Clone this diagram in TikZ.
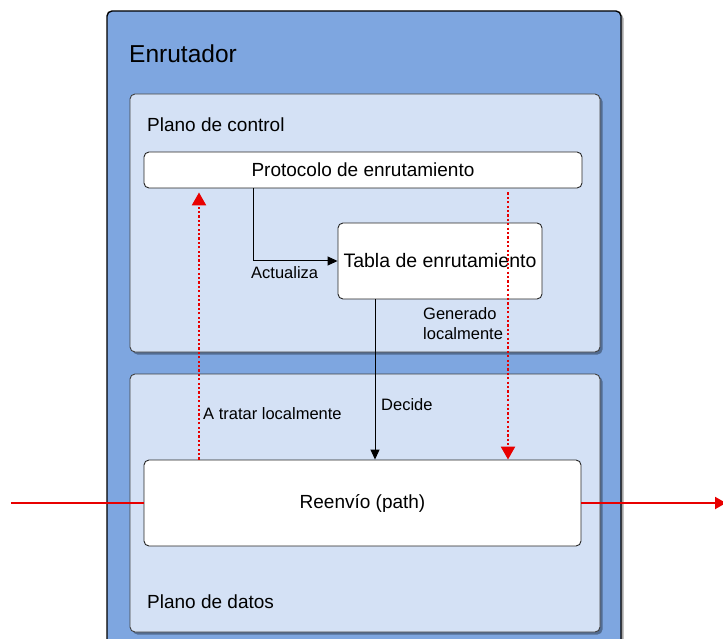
\documentclass[tikz,border=0pt]{standalone}
\usepackage{fontspec}
\setmainfont{Liberation Sans}
\usetikzlibrary{arrows.meta,shadows,calc}
\definecolor{outerblue}{RGB}{126,166,224}
\definecolor{planeblue}{RGB}{212,225,245}
\definecolor{lred}{RGB}{232,0,0}
\tikzset{
  shad/.style={drop shadow={shadow xshift=2.5pt,shadow yshift=-2.5pt,opacity=0.35,fill=black}},
  outerbox/.style={draw=black,line width=1.4pt,fill=outerblue,rounded corners=5pt,shad},
  planebox/.style={draw=black!75,line width=0.9pt,fill=planeblue,rounded corners=5pt,shad},
  whitebox/.style={draw=black!85,line width=0.9pt,fill=white,rounded corners=5pt,font=\fontsize{19}{22}\selectfont,inner sep=0pt},
  lbl/.style={font=\fontsize{16.5}{20}\selectfont,inner sep=0pt,anchor=base west,align=left},
  blk/.style={draw=black,line width=1pt,-{Triangle[length=10pt,width=9pt]}},
  rdot/.style={draw=lred,line width=2.4pt,dash pattern=on 2.2pt off 2.2pt,-{Triangle[length=13pt,width=14pt]}},
  rsolid/.style={draw=lred,line width=2pt},
}
\begin{document}
\begin{tikzpicture}[x=1pt,y=-1pt]
\useasboundingbox (0,0) rectangle (723,639);
\clip (0,0) rectangle (723,639);
% containers
\node[outerbox,minimum width=514pt,minimum height=650pt] (router) at (364,336) {};
\node[planebox,minimum width=470pt,minimum height=258pt] (ctrl) at (365,223) {};
\node[planebox,minimum width=470pt,minimum height=258pt] (data) at (365,503) {};
% titles
\node[font=\fontsize{24.5}{28}\selectfont,inner sep=0pt,anchor=base west] (t1) at (129,63) {Enrutador};
\node[font=\fontsize{19}{22}\selectfont,inner sep=0pt,anchor=base west] (t2) at (147,132) {Plano de control};
\node[font=\fontsize{19}{22}\selectfont,inner sep=0pt,anchor=base west] (t3) at (147,608) {Plano de datos};
% boxes
\node[whitebox,minimum width=438pt,minimum height=36pt] (proto) at (363,170) {Protocolo de enrutamiento};
\node[whitebox,minimum width=204pt,minimum height=76pt,font=\fontsize{19.5}{22}\selectfont] (tabla) at (440,261) {Tabla de enrutamiento};
\node[whitebox,minimum width=437pt,minimum height=86pt] (reenvio) at (362.5,503) {Reenvío (path)};
% helper coordinates
\coordinate (cA) at (253,261);
\coordinate (xD) at (375,0);
\coordinate (xU) at (199,0);
\coordinate (xR) at (508,0);
\coordinate (inp) at (11,503);
\coordinate (outp) at (726,503);
% connectors
\draw[blk] (proto.south -| cA) -- (cA) -- (tabla.west);
\draw[blk] (tabla.south -| xD) -- (reenvio.north -| xD);
\draw[rdot,shorten >=4pt] (reenvio.north -| xU) -- (proto.south -| xU);
\draw[rdot,shorten <=4pt] (proto.south -| xR) -- (reenvio.north -| xR);
\draw[rsolid] (inp) -- (reenvio.west);
\draw[rsolid,-{Triangle[length=11pt,width=12pt]}] (reenvio.east) -- (outp);
% labels
\node[lbl] (l1) at (251,279) {Actualiza};
\node[lbl] (l2) at (381,410) {Decide};
\node[lbl] (l3) at (203,419) {A tratar localmente};
\node[lbl] (l4) at (423,339) {Generado\\localmente};
\end{tikzpicture}
\end{document}
